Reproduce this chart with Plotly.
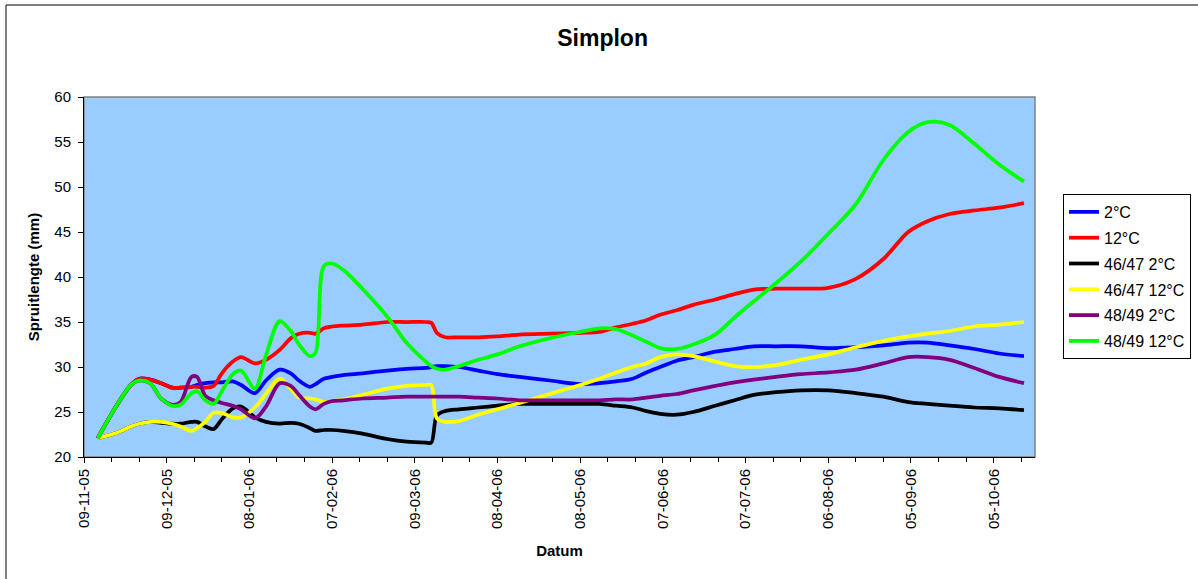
import plotly.graph_objects as go

# Measurement dates (shared by all series)
dates = [
    "2005-11-14", "2005-11-21", "2005-11-26", "2005-11-29", "2005-12-03", "2005-12-07",
    "2005-12-11", "2005-12-14", "2005-12-18", "2005-12-20", "2005-12-23", "2005-12-26",
    "2005-12-29", "2006-01-02", "2006-01-05", "2006-01-10", "2006-01-14", "2006-01-19",
    "2006-01-23", "2006-01-26", "2006-01-30", "2006-02-01", "2006-02-04", "2006-02-07",
    "2006-02-11", "2006-02-18", "2006-02-27", "2006-03-06", "2006-03-13", "2006-03-15",
    "2006-03-17", "2006-03-20", "2006-03-25", "2006-04-01", "2006-04-08", "2006-04-16",
    "2006-04-27", "2006-05-08", "2006-05-15", "2006-05-21", "2006-05-27", "2006-06-01",
    "2006-06-06", "2006-06-12", "2006-06-18", "2006-06-26", "2006-07-03", "2006-07-10",
    "2006-07-18", "2006-07-27", "2006-08-06", "2006-08-16", "2006-08-26", "2006-09-04",
    "2006-09-11", "2006-09-19", "2006-09-28", "2006-10-07", "2006-10-16",
]

blue_2c = [
    22.1, 25.8, 28.0, 28.7, 28.6, 28.2, 27.7, 27.7, 27.8, 28.0, 28.2, 28.3,
    28.3, 28.4, 28.0, 27.1, 28.5, 29.7, 29.3, 28.5, 27.8, 28.1, 28.7, 28.9,
    29.1, 29.3, 29.6, 29.8, 29.9, 30.0, 30.1, 30.1, 30.0, 29.6, 29.2, 28.9,
    28.5, 28.1, 28.2, 28.4, 28.7, 29.4, 30.0, 30.7, 31.1, 31.7, 32.0, 32.3,
    32.3, 32.3, 32.1, 32.2, 32.4, 32.7, 32.7, 32.4, 32.0, 31.5, 31.2,
]
red_12c = [
    22.1, 25.8, 28.0, 28.7, 28.6, 28.2, 27.7, 27.7, 27.8, 27.8, 27.7, 27.9,
    29.3, 30.6, 31.1, 30.4, 30.8, 31.9, 33.2, 33.7, 33.8, 33.7, 34.3, 34.5,
    34.6, 34.7, 35.0, 35.0, 35.0, 34.9, 33.8, 33.3, 33.3, 33.3, 33.4, 33.6,
    33.7, 33.8, 33.9, 34.4, 34.8, 35.2, 35.8, 36.3, 36.9, 37.5, 38.1, 38.6,
    38.7, 38.7, 38.8, 39.8, 42.0, 45.0, 46.2, 47.0, 47.4, 47.7, 48.2,
]
black_4647_2c = [
    22.1, 22.7, 23.4, 23.7, 23.9, 23.8, 23.7, 23.7, 23.9, 23.9, 23.4, 23.1,
    24.2, 25.4, 25.6, 24.4, 23.9, 23.7, 23.8, 23.7, 23.2, 22.9, 23.0, 23.0,
    22.9, 22.6, 22.0, 21.7, 21.6, 21.6, 24.6, 25.1, 25.3, 25.5, 25.7, 25.9,
    25.9, 25.9, 25.9, 25.7, 25.5, 25.1, 24.8, 24.7, 25.0, 25.7, 26.3, 26.9,
    27.2, 27.4, 27.4, 27.1, 26.7, 26.1, 25.9, 25.7, 25.5, 25.4, 25.2,
]
yellow_4647_12c = [
    22.1, 22.7, 23.4, 23.7, 23.9, 23.9, 23.7, 23.4, 22.9, 23.2, 23.9, 24.9,
    24.9, 24.4, 24.4, 25.5, 27.0, 28.7, 27.6, 26.6, 26.5, 26.4, 26.1, 26.2,
    26.4, 26.9, 27.6, 27.9, 28.0, 28.0, 24.3, 23.9, 24.0, 24.7, 25.3, 26.0,
    27.0, 28.0, 28.7, 29.4, 30.0, 30.4, 31.1, 31.4, 31.2, 30.6, 30.1, 30.0,
    30.2, 30.8, 31.4, 32.2, 32.9, 33.4, 33.7, 34.0, 34.5, 34.7, 35.0,
]
purple_4849_2c = [
    22.1, 25.8, 28.0, 28.5, 28.2, 26.5, 25.8, 26.1, 28.9, 28.9, 26.8, 26.3,
    26.0, 25.7, 25.3, 24.3, 25.6, 28.2, 27.9, 26.9, 25.6, 25.3, 25.9, 26.2,
    26.3, 26.5, 26.6, 26.7, 26.7, 26.7, 26.7, 26.7, 26.7, 26.6, 26.5, 26.3,
    26.3, 26.3, 26.3, 26.4, 26.4, 26.6, 26.8, 27.0, 27.4, 27.9, 28.3, 28.6,
    28.9, 29.2, 29.4, 29.7, 30.4, 31.1, 31.1, 30.8, 29.9, 28.9, 28.2,
]
green_4849_12c = [
    22.1, 25.8, 28.0, 28.5, 28.2, 26.5, 25.7, 25.8, 27.1, 27.3, 26.3, 25.9,
    27.3, 29.2, 29.6, 27.6, 31.3, 35.1, 34.0, 32.5, 31.2, 31.6, 41.2, 41.5,
    40.8, 38.7, 35.6, 32.7, 30.6, 30.1, 29.8, 29.7, 30.1, 30.8, 31.4, 32.3,
    33.2, 33.9, 34.3, 34.2, 33.5, 32.8, 32.1, 32.0, 32.5, 33.6, 35.5, 37.3,
    39.3, 41.7, 44.8, 48.1, 53.0, 56.1, 57.2, 56.9, 54.8, 52.5, 50.6,
]

series_names = ["2°C", "12°C", "46/47 2°C", "46/47 12°C", "48/49 2°C", "48/49 12°C"]
series_values = [blue_2c, red_12c, black_4647_2c, yellow_4647_12c, purple_4849_2c, green_4849_12c]
series_colors = ["#0000FF", "#FF0000", "#000000", "#FFFF00", "#800080", "#00FF00"]

# Figure geometry (pixels)
W, H = 1198, 579
L, R, T, B = 84, 1035, 97, 457
PW, PH = R - L, B - T


def px(xp):
    return (xp - L) / PW


def py(yp):
    return (B - yp) / PH


FONT = "Arial, 'Liberation Sans', sans-serif"
DAY_MS = 86400000

fig = go.Figure()
for i, (name, vals, col) in enumerate(zip(series_names, series_values, series_colors)):
    fig.add_trace(go.Scatter(
        x=dates, y=vals, name=name, mode="lines",
        line=dict(color=col, width=3.75, shape="spline", smoothing=0.9),
        legendgroup=f"g{i}",
    ))

fig.update_layout(
    width=W, height=H,
    margin=dict(l=L, r=W - R, t=T, b=H - B, pad=0, autoexpand=False),
    paper_bgcolor="white",
    plot_bgcolor="#99CCFF",
    font=dict(family=FONT, size=15, color="black"),
    title=dict(text="<b>Simplon</b>", x=0.503, xanchor="center", y=1 - 38 / H,
               yanchor="middle", font=dict(family=FONT, size=23, color="black")),
    showlegend=True,
    legend=dict(
        x=px(1063), y=py(194), xanchor="left", yanchor="top",
        bgcolor="white", bordercolor="black", borderwidth=1,
        font=dict(family=FONT, size=16, color="black"),
        tracegroupgap=2, itemwidth=30,
    ),
    xaxis=dict(
        type="date",
        range=["2005-11-09", "2006-10-20"],
        tick0="2005-11-09", dtick=30 * DAY_MS,
        tickformat="%d-%m-%y", tickangle=-90,
        ticks="outside", ticklen=5, tickcolor="black", tickwidth=1,
        minor=dict(dtick=10 * DAY_MS, tick0="2005-11-09", ticks="outside",
                   ticklen=4, tickcolor="black", tickwidth=1, showgrid=False),
        showgrid=False, zeroline=False,
        showline=True, linecolor="black", linewidth=1,
        tickfont=dict(family=FONT, size=15),
        title=dict(text="<b>Datum</b>", font=dict(family=FONT, size=15), standoff=17),
    ),
    yaxis=dict(
        range=[20, 60], dtick=5, tick0=20,
        ticks="outside", ticklen=5, tickcolor="black", tickwidth=1,
        ticklabelstandoff=4,
        showgrid=False, zeroline=False,
        showline=True, linecolor="black", linewidth=1,
        tickfont=dict(family=FONT, size=15),
        title=dict(text="<b>Spruitlengte (mm)</b>", font=dict(family=FONT, size=15), standoff=11),
    ),
)

# Plot-area frame (grey) and outer chart frame (black)
fig.add_shape(type="rect", xref="paper", yref="paper", x0=0, y0=0, x1=1, y1=1,
              line=dict(color="#808080", width=1.5), layer="below")
fig.add_shape(type="line", xref="paper", yref="paper",
              x0=px(6), y0=py(5), x1=px(6), y1=py(H + 5),
              line=dict(color="black", width=1))
fig.add_shape(type="line", xref="paper", yref="paper",
              x0=px(6), y0=py(5), x1=px(W + 5), y1=py(5),
              line=dict(color="black", width=1))

fig.write_html("out.html")
